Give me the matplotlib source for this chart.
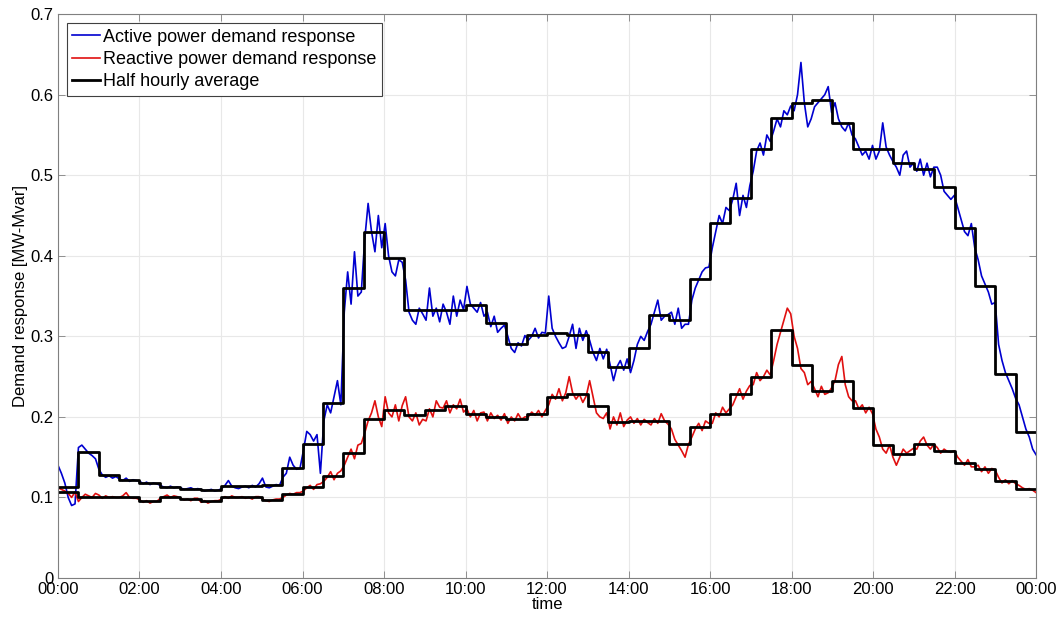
import numpy as np
import matplotlib
matplotlib.use('Agg')
import matplotlib.pyplot as plt

plt.rcParams['font.family'] = ['Liberation Sans', 'DejaVu Sans']
plt.rcParams['font.size'] = 12

# 5-minute samples, one row = one half hour (6 samples)
active = [
    0.140, 0.130, 0.118, 0.100, 0.090, 0.092,
    0.162, 0.165, 0.160, 0.155, 0.152, 0.148,
    0.135, 0.128, 0.125, 0.127, 0.124, 0.126,
    0.123, 0.121, 0.124, 0.120, 0.122, 0.121,
    0.120, 0.117, 0.119, 0.116, 0.118, 0.117,
    0.115, 0.113, 0.112, 0.114, 0.112, 0.113,
    0.112, 0.110, 0.111, 0.112, 0.110, 0.111,
    0.110, 0.108, 0.109, 0.110, 0.108, 0.109,
    0.111, 0.115, 0.121, 0.114, 0.112, 0.111,
    0.113, 0.114, 0.112, 0.115, 0.113, 0.117,
    0.124, 0.113, 0.112, 0.114, 0.116, 0.115,
    0.125, 0.130, 0.150, 0.140, 0.135, 0.136,
    0.158, 0.182, 0.178, 0.170, 0.178, 0.130,
    0.195, 0.215, 0.205, 0.225, 0.245, 0.215,
    0.330, 0.380, 0.340, 0.405, 0.350, 0.355,
    0.420, 0.465, 0.430, 0.405, 0.450, 0.410,
    0.440, 0.400, 0.380, 0.375, 0.395, 0.392,
    0.370, 0.330, 0.320, 0.315, 0.335, 0.328,
    0.320, 0.360, 0.325, 0.335, 0.318, 0.340,
    0.330, 0.315, 0.350, 0.325, 0.345, 0.333,
    0.362, 0.340, 0.335, 0.330, 0.342, 0.325,
    0.330, 0.312, 0.325, 0.305, 0.310, 0.314,
    0.300, 0.285, 0.280, 0.292, 0.288, 0.301,
    0.295, 0.300, 0.310, 0.298, 0.305, 0.304,
    0.350, 0.310, 0.300, 0.292, 0.285, 0.287,
    0.300, 0.315, 0.285, 0.310, 0.295, 0.307,
    0.295, 0.280, 0.270, 0.285, 0.272, 0.284,
    0.265, 0.245, 0.262, 0.270, 0.258, 0.272,
    0.255, 0.270, 0.290, 0.300, 0.295, 0.306,
    0.315, 0.330, 0.345, 0.320, 0.325, 0.327,
    0.330, 0.315, 0.335, 0.310, 0.315, 0.315,
    0.345, 0.360, 0.370, 0.380, 0.385, 0.386,
    0.410, 0.430, 0.450, 0.440, 0.460, 0.456,
    0.470, 0.490, 0.450, 0.475, 0.460, 0.487,
    0.505, 0.530, 0.540, 0.525, 0.550, 0.542,
    0.555, 0.570, 0.560, 0.580, 0.575, 0.586,
    0.580, 0.600, 0.640, 0.590, 0.560, 0.570,
    0.585, 0.590, 0.595, 0.600, 0.610, 0.578,
    0.590, 0.570, 0.560, 0.555, 0.565, 0.550,
    0.545, 0.535, 0.525, 0.530, 0.520, 0.537,
    0.520, 0.530, 0.565, 0.535, 0.525, 0.517,
    0.510, 0.500, 0.525, 0.530, 0.510, 0.515,
    0.505, 0.520, 0.500, 0.515, 0.498, 0.510,
    0.510, 0.500, 0.480, 0.475, 0.470, 0.475,
    0.460, 0.445, 0.430, 0.425, 0.440, 0.410,
    0.395, 0.375, 0.365, 0.355, 0.340, 0.342,
    0.290, 0.270, 0.255, 0.245, 0.235, 0.223,
    0.215, 0.200, 0.185, 0.175, 0.160, 0.153,
]

reactive = [
    0.112, 0.110, 0.108, 0.105, 0.100, 0.107,
    0.095, 0.100, 0.104, 0.102, 0.100, 0.105,
    0.103, 0.099, 0.102, 0.100, 0.101, 0.100,
    0.100, 0.102, 0.106, 0.100, 0.099, 0.099,
    0.097, 0.094, 0.096, 0.093, 0.095, 0.095,
    0.099, 0.101, 0.103, 0.100, 0.102, 0.101,
    0.099, 0.097, 0.098, 0.096, 0.099, 0.099,
    0.094, 0.096, 0.093, 0.095, 0.096, 0.096,
    0.098, 0.101, 0.099, 0.102, 0.100, 0.100,
    0.101, 0.099, 0.100, 0.098, 0.101, 0.101,
    0.098, 0.096, 0.095, 0.097, 0.098, 0.098,
    0.100, 0.103, 0.105, 0.104, 0.106, 0.106,
    0.108, 0.112, 0.115, 0.110, 0.116, 0.117,
    0.120, 0.125, 0.132, 0.122, 0.130, 0.133,
    0.140, 0.150, 0.160, 0.148, 0.165, 0.167,
    0.180, 0.195, 0.205, 0.220, 0.200, 0.188,
    0.225, 0.205, 0.200, 0.215, 0.195, 0.214,
    0.225, 0.200, 0.195, 0.205, 0.190, 0.197,
    0.195, 0.210, 0.200, 0.220, 0.212, 0.211,
    0.220, 0.205, 0.215, 0.210, 0.222, 0.206,
    0.210, 0.200, 0.208, 0.195, 0.205, 0.206,
    0.195, 0.205, 0.198, 0.202, 0.196, 0.204,
    0.192, 0.200, 0.195, 0.204, 0.197, 0.200,
    0.200, 0.206, 0.202, 0.208, 0.200, 0.208,
    0.215, 0.228, 0.222, 0.235, 0.220, 0.230,
    0.250, 0.230, 0.222, 0.228, 0.218, 0.226,
    0.245, 0.225, 0.205, 0.200, 0.198, 0.205,
    0.185, 0.200, 0.190, 0.205, 0.188, 0.196,
    0.200, 0.192, 0.198, 0.190, 0.197, 0.193,
    0.190, 0.198, 0.192, 0.204, 0.195, 0.191,
    0.185, 0.172, 0.165, 0.158, 0.150, 0.166,
    0.175, 0.185, 0.192, 0.183, 0.195, 0.192,
    0.192, 0.205, 0.200, 0.212, 0.205, 0.210,
    0.215, 0.225, 0.235, 0.222, 0.232, 0.239,
    0.240, 0.255, 0.245, 0.250, 0.258, 0.252,
    0.270, 0.290, 0.305, 0.320, 0.335, 0.328,
    0.300, 0.285, 0.260, 0.255, 0.240, 0.244,
    0.235, 0.225, 0.238, 0.228, 0.230, 0.236,
    0.245, 0.265, 0.275, 0.240, 0.225, 0.220,
    0.220, 0.210, 0.215, 0.205, 0.212, 0.204,
    0.185, 0.175, 0.160, 0.155, 0.165, 0.150,
    0.140, 0.150, 0.160, 0.155, 0.158, 0.161,
    0.160, 0.170, 0.175, 0.165, 0.160, 0.166,
    0.162, 0.155, 0.160, 0.157, 0.156, 0.158,
    0.150, 0.145, 0.140, 0.147, 0.138, 0.138,
    0.140, 0.132, 0.138, 0.130, 0.136, 0.134,
    0.125, 0.118, 0.122, 0.117, 0.121, 0.117,
    0.115, 0.112, 0.110, 0.111, 0.109, 0.106,
]

# half hourly averages
avg_active = [
    0.113, 0.157, 0.128, 0.122, 0.118, 0.113, 0.111, 0.109,
    0.114, 0.114, 0.115, 0.136, 0.166, 0.217, 0.360, 0.430,
    0.397, 0.333, 0.333, 0.333, 0.339, 0.316, 0.291, 0.302,
    0.304, 0.302, 0.281, 0.262, 0.286, 0.327, 0.320, 0.371,
    0.441, 0.472, 0.532, 0.571, 0.590, 0.593, 0.565, 0.532,
    0.532, 0.515, 0.508, 0.485, 0.435, 0.362, 0.253, 0.181,
]
avg_reactive = [
    0.107, 0.101, 0.101, 0.101, 0.095, 0.101, 0.098, 0.095,
    0.100, 0.100, 0.097, 0.104, 0.113, 0.127, 0.155, 0.198,
    0.209, 0.202, 0.208, 0.213, 0.204, 0.200, 0.198, 0.204,
    0.225, 0.229, 0.213, 0.194, 0.195, 0.195, 0.166, 0.187,
    0.204, 0.228, 0.250, 0.308, 0.264, 0.232, 0.245, 0.211,
    0.165, 0.154, 0.166, 0.158, 0.143, 0.135, 0.120, 0.111,
]

tick_labels = ['00:00', '02:00', '04:00', '06:00', '08:00', '10:00', '12:00',
               '14:00', '16:00', '18:00', '20:00', '22:00', '00:00']

t_raw = np.linspace(0, 24, len(active))
t_step = np.arange(len(avg_active) + 1) * 0.5

fig = plt.figure(figsize=(10.62, 6.19), dpi=100)
ax = fig.add_axes([0.0546, 0.0662, 0.921, 0.911])

ax.plot(t_raw, active, color='#0000d0', lw=1.2, label='Active power demand response')
ax.plot(t_raw, reactive, color='#e01010', lw=1.2, label='Reactive power demand response')
ax.step(t_step, avg_active + [avg_active[-1]], where='post', color='black', lw=2,
        label='Half hourly average')
ax.step(t_step, avg_reactive + [avg_reactive[-1]], where='post', color='black', lw=2)

ax.set_xlim(0, 24)
ax.set_ylim(0, 0.7)
ax.set_xticks(np.arange(0, 25, 2))
ax.set_xticklabels(tick_labels)
ax.set_yticks(np.arange(0, 0.71, 0.1))
ax.set_yticklabels(['0', '0.1', '0.2', '0.3', '0.4', '0.5', '0.6', '0.7'])
ax.tick_params(direction='in', top=True, right=True, length=5, width=0.6,
               color='#808080', labelsize=12, pad=3)
ax.grid(True, color='#e8e8e8', lw=0.8)
ax.set_axisbelow(True)
for s in ax.spines.values():
    s.set_color('#808080')
    s.set_linewidth(0.8)

ax.set_xlabel('time', fontsize=12, labelpad=0)
ax.set_ylabel('Demand response [MW-Mvar]', fontsize=12, labelpad=2)

leg = ax.legend(loc='upper left', fancybox=False, framealpha=1, edgecolor='#404040',
                fontsize=13, handlelength=1.5, handletextpad=0.2, borderpad=0.3,
                labelspacing=0.3, borderaxespad=0.5)
leg.get_frame().set_linewidth(0.8)

fig.savefig('out.png', dpi=100)
